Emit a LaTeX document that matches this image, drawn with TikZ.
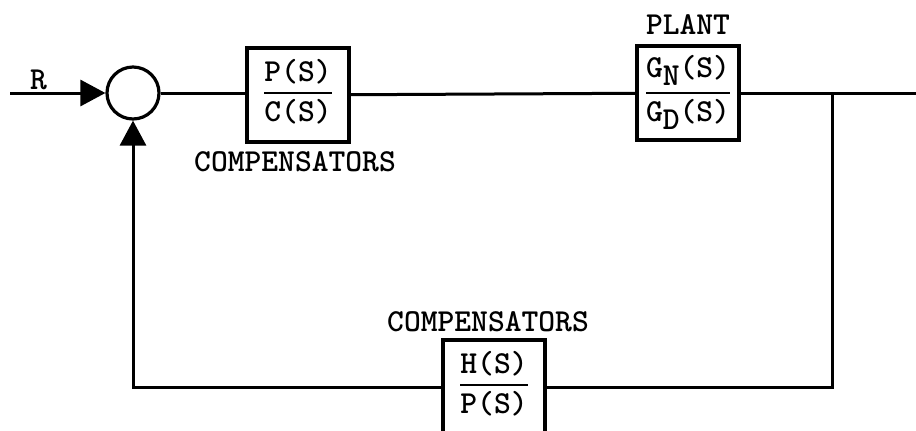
\documentclass[tikz,border=0pt]{standalone}
\usepackage{amsmath}
\usetikzlibrary{arrows.meta, calc, positioning}

% fraction in a block: #1 extra depth under the numerator
\newcommand{\ttratio}[3][0pt]{{\setlength{\arrayrulewidth}{1.3pt}\renewcommand{\arraystretch}{0.9}%
  \begin{tabular}{@{}c@{}}#2\rule[-#1]{0pt}{#1}\\\hline\rule{0pt}{13.5pt}#3\end{tabular}}}
\newcommand{\lowsub}[1]{\raisebox{-0.6ex}{#1}}

\begin{document}
\begin{tikzpicture}[x=0.5pt, y=-0.5pt, >={Triangle[length=12.5pt, width=13pt]},
    every node/.style={font=\ttfamily\bfseries\fontsize{16}{18}\selectfont},
    wire/.style={line width=1.5pt},
    blockbox/.style={draw, line width=1.6pt, minimum width=51pt, minimum height=47pt, inner sep=0pt}]
  % frame of the picture (feedback block runs off the bottom edge)
  \clip (0,0) rectangle (916,430);
  % summing junction and blocks along the forward path
  \node[circle, draw, line width=1.6pt, minimum size=26pt, inner sep=0pt] (sum) at (133,93) {};
  \node[blockbox] (comp) at (298,95) {\ttratio{P(S)}{C(S)}};
  \node[blockbox] (plant) at (688,93) {\ttratio[7pt]{G\lowsub{N}(S)}{G\lowsub{D}(S)}};
  \node[blockbox] (fbcomp) at (494,387) {\ttratio{H(S)}{P(S)}};
  % labels of the blocks
  \node (complabel) at (295,162) {COMPENSATORS};
  \node (plantlabel) at (688,25) {PLANT};
  \node (fblabel) at (488,322) {COMPENSATORS};
  % input, output and corners of the loop
  \coordinate (rin) at (10,93);
  \coordinate (yout) at (916,93);
  \coordinate (tap) at (832,93);
  \coordinate (corbr) at (832,387);
  \coordinate (corbl) at (133,387);
  % forward path
  \draw[wire, ->] (rin) -- node[pos=0.3, above, inner sep=1pt] (rlabel) {R} (sum);
  \draw[wire] (sum) -- (comp.west |- sum);
  \draw[wire] (comp) -- (plant);
  \draw[wire] (plant.east |- yout) -- (yout);
  % feedback path
  \draw[wire] (tap) -- (corbr) -- (fbcomp.east |- corbr);
  \draw[wire, ->] (fbcomp.west |- corbl) -- (corbl) -- (sum);
\end{tikzpicture}
\end{document}
